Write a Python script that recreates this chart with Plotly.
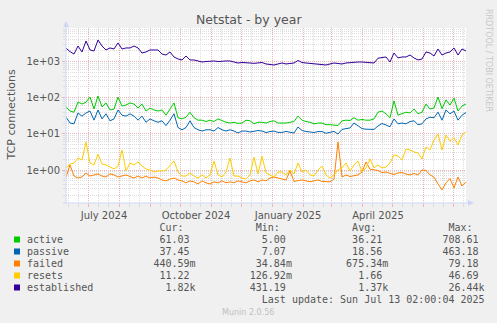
import plotly.graph_objects as go
import pandas as pd

# ---------------- data ----------------
start_date = "2024-06-09"
end_date = "2025-07-14"
n_points = 101
dates = pd.date_range(start=start_date, end=end_date, periods=n_points)

active = [
    56, 43, 40, 76, 67, 76, 105, 49, 112, 56,
    72, 46, 49, 105, 59, 63, 72, 67, 52, 67,
    43, 52, 46, 43, 46, 33, 49, 72, 28, 26,
    29, 40, 28, 24, 24, 22, 24, 22, 26, 23,
    21, 20, 21, 19.5, 20, 24, 23, 19, 21, 21,
    20, 22, 23, 20, 20, 20, 21, 22, 31, 24,
    22, 21, 19, 20, 20, 18, 18, 17.6, 17, 23,
    24, 23.5, 28, 24, 25, 24, 24, 26, 40, 43,
    36, 28, 82, 33, 36, 40, 38, 49, 36, 40,
    67, 49, 52, 105, 50, 87, 63, 98, 43, 59,
    67,
]
passive = [
    29, 20, 19, 38, 31, 38, 43, 24, 46, 26,
    36, 23, 26, 46, 33, 31, 36, 31, 24, 31,
    21, 26, 23, 21, 23, 17, 24, 36, 15, 13,
    15, 23, 15, 13, 12, 13, 13, 12, 15, 13,
    12, 13, 12, 10.6, 12, 12, 11.3, 11.7, 12.4, 12,
    10.9, 11.6, 12, 11, 11, 11.7, 11, 10.6, 15.5, 12.4,
    11.7, 11.3, 10.9, 11.6, 11.6, 10.4, 11, 11.7, 9.9, 13.3,
    14, 14.6, 20, 16.6, 14, 13.5, 13.2, 13.3, 16.6, 19.4,
    17.6, 15.8, 26, 19, 20, 19, 22, 23, 18, 19,
    26, 29, 28, 40, 24, 46, 36, 43, 24, 33,
    39,
]
failed = [
    0.64, 1.38, 0.68, 0.6, 0.64, 0.83, 0.68, 0.73, 0.78, 0.68,
    0.64, 0.78, 0.73, 0.64, 0.68, 0.73, 0.66, 0.6, 0.68, 0.6,
    0.68, 0.6, 0.64, 0.6, 0.53, 0.5, 0.56, 0.6, 0.53, 0.5,
    0.44, 0.5, 0.47, 0.41, 0.5, 0.44, 0.41, 0.47, 0.44, 0.5,
    0.44, 0.47, 0.44, 0.5, 0.47, 0.44, 0.5, 0.53, 0.47, 0.53,
    0.5, 0.6, 0.64, 0.6, 0.56, 0.53, 0.94, 0.48, 0.51, 0.53,
    0.5, 0.47, 0.5, 0.53, 0.48, 0.47, 0.47, 0.56, 5.97, 0.64,
    0.73, 0.66, 0.68, 0.73, 0.88, 1.67, 1.05, 1.03, 0.97, 0.85,
    0.88, 0.81, 0.75, 0.83, 0.85, 0.77, 0.73, 0.8, 0.73, 1.0,
    0.97, 0.73, 0.64, 0.41, 0.28, 0.44, 0.58, 0.32, 0.64, 0.36,
    0.47,
]
resets = [
    1.14, 1.47, 1.56, 2.15, 1.89, 5.97, 1.56, 1.38, 2.77, 1.47,
    1.38, 1.21, 1.07, 1.29, 3.58, 0.94, 1.56, 1.38, 1.67, 1.29,
    1.07, 1.0, 0.88, 0.94, 0.94, 1.0, 1.38, 1.78, 0.88, 0.68,
    0.68, 0.83, 0.68, 0.6, 0.73, 0.6, 0.73, 1.78, 0.73, 0.64,
    0.88, 2.15, 0.68, 0.68, 0.6, 0.56, 0.73, 2.29, 0.78, 2.44,
    0.83, 0.73, 0.64, 0.88, 0.88, 0.73, 1.0, 0.78, 1.56, 0.88,
    1.0, 0.73, 0.68, 1.0, 1.29, 0.73, 0.6, 0.73, 1.0, 1.14,
    1.56, 0.94, 1.38, 1.78, 0.88, 1.14, 2.02, 1.14, 1.38, 1.14,
    1.21, 1.56, 2.6, 2.44, 1.89, 3.82, 3.58, 3.15, 2.96, 2.02,
    4.34, 3.58, 6.78, 9.94, 3.58, 9.3, 6.36, 7.7, 4.93, 9.3,
    11.3,
]
established = [
    2360, 1900, 1630, 2720, 1860, 3745, 2110, 1980, 3990, 2720,
    2110, 2400, 2250, 3300, 2250, 2400, 2400, 2720, 2400, 1740,
    1860, 2110, 2110, 2110, 1630, 1530, 1860, 1350, 1190, 1115,
    1440, 1115, 1115, 1046, 981, 1010, 1046, 1046, 1010, 1046,
    1046, 1046, 981, 920, 950, 950, 920, 900, 920, 950,
    864, 840, 810, 864, 920, 864, 890, 920, 1080, 950,
    920, 890, 864, 864, 840, 810, 864, 920, 890, 864,
    920, 950, 960, 981, 981, 960, 920, 920, 1250, 1310,
    1350, 981, 1740, 1270, 1350, 1350, 1530, 1270, 1115, 1190,
    1860, 1740, 1440, 2250, 1530, 1740, 1860, 2400, 1530, 2250,
    1980,
]

series_names = ["active", "passive", "failed", "resets", "established"]
series_colors = ["#00CC00", "#0066B3", "#FF8000", "#FFCC00", "#330099"]
series_values = [active, passive, failed, resets, established]

cur_vals = ["61.03", "37.45", "440.59m", "11.22", "1.82k"]
min_vals = ["5.00", "7.07", "34.84m", "126.92m", "431.19"]
avg_vals = ["36.21", "18.56", "675.34m", "1.66", "1.37k"]
max_vals = ["708.61", "463.18", "79.18", "46.69", "26.44k"]

x_tick_dates = pd.date_range("2024-07-01", "2025-07-01", freq="MS")
x_tick_labels = ["July 2024", "", "", "October 2024", "", "", "January 2025",
                 "", "", "April 2025", "", "", ""]
y_tick_vals = [1, 10, 100, 1000]
y_tick_labels = ["1e+00", "1e+01", "1e+02", "1e+03"]

title_text = "Netstat - by year"
y_title = "TCP connections"
last_update = "Last update: Sun Jul 13 02:00:04 2025"
footer = "Munin 2.0.56"
watermark = "RRDTOOL / TOBI OETIKER"

# ---------------- layout geometry ----------------
W, H = 497, 323
ML, MR, MT, MB = 66, 31, 28, 120
PW, PH = W - ML - MR, H - MT - MB


def px(xp):
    return (xp - ML) / PW


def py(yp):
    return (H - MB - yp) / PH


FONT = "DejaVu Sans"
MONO = "DejaVu Sans Mono"
TXT = "#555555"
MGRID = "#F0B4B4"
GRID = "#DCDCDC"
AXIS = "#CFD6F8"

fig = go.Figure()
for name, col, vals in zip(series_names, series_colors, series_values):
    fig.add_trace(go.Scatter(x=dates, y=vals, mode="lines", name=name,
                             line=dict(color=col, width=1), showlegend=False))

# minor x grid: 11th and 21st of each month
minor_x = []
for m in pd.date_range("2024-06-01", "2025-07-01", freq="MS"):
    for off in (10, 20):
        d = m + pd.Timedelta(days=off)
        if pd.Timestamp(start_date) < d < pd.Timestamp(end_date):
            minor_x.append(d)

minor_y = [k * 10 ** e for e in range(-1, 4) for k in range(2, 10)]

fig.update_layout(
    width=W, height=H,
    margin=dict(l=ML, r=MR, t=MT, b=MB, pad=0),
    paper_bgcolor="#F0F0F0", plot_bgcolor="#FFFFFF",
    font=dict(family=FONT, size=10, color=TXT),
    xaxis=dict(
        type="date", range=[start_date, end_date],
        tickmode="array", tickvals=list(x_tick_dates), ticktext=x_tick_labels,
        ticklabelshift=16, ticks="outside", ticklen=3, tickcolor=MGRID,
        showgrid=True, gridcolor=MGRID, griddash="1px,1px", gridwidth=1,
        showline=False, zeroline=False,
        tickfont=dict(family=FONT, size=10, color=TXT),
        minor=dict(tickmode="array", tickvals=minor_x, showgrid=True,
                   gridcolor=GRID, griddash="1px,1px", gridwidth=1,
                   ticks="outside", ticklen=3, tickcolor=GRID),
    ),
    yaxis=dict(
        type="log", range=[-0.914, 3.933],
        tickmode="array", tickvals=y_tick_vals, ticktext=y_tick_labels,
        ticks="outside", ticklen=3, tickcolor=MGRID,
        showgrid=True, gridcolor=MGRID, griddash="1px,1px", gridwidth=1,
        showline=False, zeroline=False,
        tickfont=dict(family=FONT, size=10, color=TXT),
        minor=dict(tickmode="array", tickvals=minor_y, showgrid=True,
                   gridcolor=GRID, griddash="1px,1px", gridwidth=1,
                   ticks="outside", ticklen=2, tickcolor=GRID),
    ),
)

shapes = []
# axes with arrows
shapes.append(dict(type="line", xref="paper", yref="paper",
                   x0=px(66), x1=px(66), y0=py(203), y1=py(26),
                   line=dict(color=AXIS, width=1)))
shapes.append(dict(type="path", xref="paper", yref="paper",
                   path=f"M {px(63)},{py(27)} L {px(66)},{py(21)} L {px(69)},{py(27)} Z",
                   fillcolor=AXIS, line=dict(width=0)))
shapes.append(dict(type="line", xref="paper", yref="paper",
                   x0=px(63), x1=px(469), y0=py(203), y1=py(203),
                   line=dict(color=AXIS, width=1)))
shapes.append(dict(type="path", xref="paper", yref="paper",
                   path=f"M {px(468)},{py(200)} L {px(474)},{py(203)} L {px(468)},{py(206)} Z",
                   fillcolor=AXIS, line=dict(width=0)))

# legend squares
row_y = [239.5, 251.5, 263.5, 275.5, 287.5]
for col, yy in zip(series_colors, row_y):
    shapes.append(dict(type="rect", xref="paper", yref="paper",
                       x0=px(14), x1=px(20), y0=py(yy - 3), y1=py(yy + 3),
                       fillcolor=col, line=dict(width=0)))
fig.update_layout(shapes=shapes)

NB = "\u00a0"


def build_row(label, vals):
    s = label.ljust(12)
    for v, end in zip(vals, (28, 44, 60, 76)):
        field = v if v[-1] in "mk" else v + " "
        s = s.ljust(end - len(field)) + field
    return s.replace(" ", NB)


header = ""
for h, end in zip(("Cur:", "Min:", "Avg:", "Max:"), (26, 42, 58, 74)):
    header = header.ljust(end - len(h)) + h
header = header.replace(" ", NB)

ann = []
ann.append(dict(text=title_text, x=px(248.5), y=py(19), xref="paper", yref="paper",
                showarrow=False, xanchor="center", yanchor="middle",
                font=dict(family=FONT, size=12.5, color=TXT)))
ann.append(dict(text=y_title, x=px(10.5), y=py(115), xref="paper", yref="paper",
                showarrow=False, xanchor="center", yanchor="middle", textangle=-90,
                font=dict(family=FONT, size=11, color=TXT)))
ann.append(dict(text=watermark, x=px(489), y=py(60), xref="paper", yref="paper",
                showarrow=False, xanchor="center", yanchor="middle", textangle=90,
                font=dict(family=FONT, size=8, color="#C8C8C8")))
ann.append(dict(text=header, x=px(26), y=py(227.5), xref="paper", yref="paper",
                showarrow=False, xanchor="left", yanchor="middle", borderpad=0,
                font=dict(family=MONO, size=10, color=TXT)))
for name, c, mn, a, mx, yy in zip(series_names, cur_vals, min_vals, avg_vals, max_vals, row_y):
    ann.append(dict(text=build_row(name, [c, mn, a, mx]), x=px(26), y=py(yy),
                    xref="paper", yref="paper", showarrow=False,
                    xanchor="left", yanchor="middle", borderpad=0,
                    font=dict(family=MONO, size=10, color=TXT)))
lu = (" " * 39 + last_update).replace(" ", NB)
ann.append(dict(text=lu, x=px(26), y=py(299.5), xref="paper", yref="paper",
                showarrow=False, xanchor="left", yanchor="middle", borderpad=0,
                font=dict(family=MONO, size=10, color=TXT)))
ann.append(dict(text=footer, x=px(248), y=py(312), xref="paper", yref="paper",
                showarrow=False, xanchor="center", yanchor="middle",
                font=dict(family=FONT, size=8, color="#C0C0C0")))
fig.update_layout(annotations=ann)

fig.write_html("out.html")
